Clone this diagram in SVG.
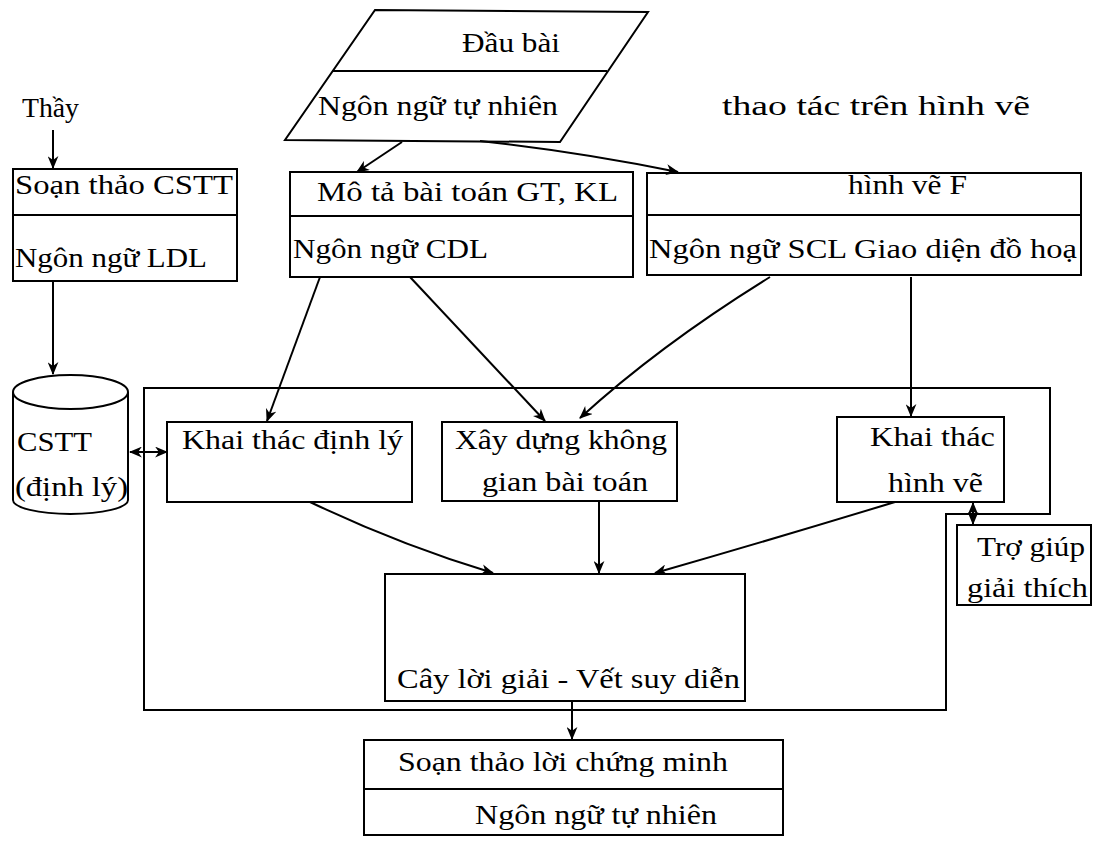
<svg xmlns="http://www.w3.org/2000/svg" width="1094" height="845" viewBox="0 0 1094 845">
<style>
.s{fill:none;stroke:#000;stroke-width:2}
.b{fill:#fff;stroke:#000;stroke-width:2}
.t{font-family:"Liberation Serif","Times New Roman",serif;font-size:27px;fill:#000}
.c{fill:none;stroke:#000;stroke-width:2}
.a{marker-end:url(#ah)}
.d{marker-start:url(#ah);marker-end:url(#ah)}
</style>
<defs>
<marker id="ah" viewBox="0 0 12 10" refX="11" refY="5" markerWidth="13" markerHeight="11" markerUnits="userSpaceOnUse" orient="auto-start-reverse">
<path d="M0,0 L12,5 L0,10 L3.5,5 Z" fill="#000"/>
</marker>
</defs>
<rect width="1094" height="845" fill="#fff"/>

<g id="frame">
<path class="s" d="M144,388 L1050,388 L1050,514 L946,514 L946,710 L144,710 Z"/>
</g>

<g id="dau-bai">
<path class="b" d="M375,10 L648,12 L560,142 L285,140 Z"/>
<line class="s" x1="332" y1="71" x2="607" y2="71"/>
<text class="t" x="462" y="52" textLength="98" lengthAdjust="spacingAndGlyphs">Đầu bài</text>
<text class="t" x="318" y="115" textLength="240" lengthAdjust="spacingAndGlyphs">Ngôn ngữ tự nhiên</text>
</g>

<g id="thao-tac">
<text class="t" x="722" y="115" textLength="308" lengthAdjust="spacingAndGlyphs">thao tác trên hình vẽ</text>
</g>

<g id="thay">
<text class="t" x="22" y="117" textLength="57" lengthAdjust="spacingAndGlyphs">Thầy</text>
</g>

<g id="soan-thao-cstt">
<rect class="b" x="13" y="169" width="224" height="112"/>
<line class="s" x1="13" y1="215" x2="237" y2="215"/>
<text class="t" x="15" y="194" textLength="218" lengthAdjust="spacingAndGlyphs">Soạn thảo CSTT</text>
<text class="t" x="15" y="267" textLength="192" lengthAdjust="spacingAndGlyphs">Ngôn ngữ LDL</text>
</g>

<g id="mo-ta">
<rect class="b" x="290" y="172" width="343" height="105"/>
<line class="s" x1="290" y1="216" x2="633" y2="216"/>
<text class="t" x="317" y="201" textLength="301" lengthAdjust="spacingAndGlyphs">Mô tả bài toán GT, KL</text>
<text class="t" x="293" y="258" textLength="195" lengthAdjust="spacingAndGlyphs">Ngôn ngữ CDL</text>
</g>

<g id="hinh-ve-f">
<rect class="b" x="647" y="173" width="434" height="102"/>
<line class="s" x1="647" y1="215" x2="1081" y2="215"/>
<text class="t" x="848" y="194" textLength="119" lengthAdjust="spacingAndGlyphs">hình vẽ F</text>
<text class="t" x="649" y="258" textLength="428" lengthAdjust="spacingAndGlyphs">Ngôn ngữ SCL Giao diện đồ hoạ</text>
</g>

<g id="cstt-db">
<path class="b" d="M13,392 L13,500 A57.5,14 0 0 0 128,500 L128,392"/>
<ellipse class="b" cx="70.5" cy="392" rx="57.5" ry="17"/>
<text class="t" x="17" y="451" textLength="75" lengthAdjust="spacingAndGlyphs">CSTT</text>
<text class="t" x="15" y="496" textLength="113" lengthAdjust="spacingAndGlyphs">(định lý)</text>
</g>

<g id="khai-thac-dinh-ly">
<rect class="b" x="167" y="422" width="245" height="80"/>
<text class="t" x="182" y="449" textLength="221" lengthAdjust="spacingAndGlyphs">Khai thác định lý</text>
</g>

<g id="xay-dung">
<rect class="b" x="442" y="422" width="235" height="79"/>
<text class="t" x="455" y="449" textLength="212" lengthAdjust="spacingAndGlyphs">Xây dựng không</text>
<text class="t" x="482" y="491" textLength="166" lengthAdjust="spacingAndGlyphs">gian bài toán</text>
</g>

<g id="khai-thac-hinh-ve">
<rect class="b" x="837" y="417" width="167" height="85"/>
<text class="t" x="870" y="446" textLength="125" lengthAdjust="spacingAndGlyphs">Khai thác</text>
<text class="t" x="888" y="492" textLength="95" lengthAdjust="spacingAndGlyphs">hình vẽ</text>
</g>

<g id="tro-giup">
<rect class="b" x="957" y="525" width="134" height="80"/>
<text class="t" x="977" y="556" textLength="108" lengthAdjust="spacingAndGlyphs">Trợ giúp</text>
<text class="t" x="967" y="597" textLength="121" lengthAdjust="spacingAndGlyphs">giải thích</text>
</g>

<g id="cay-loi-giai">
<rect class="b" x="385" y="574" width="360" height="127"/>
<text class="t" x="397" y="688" textLength="343" lengthAdjust="spacingAndGlyphs">Cây lời giải - Vết suy diễn</text>
</g>

<g id="soan-thao-loi-chung-minh">
<rect class="b" x="364" y="740" width="419" height="95"/>
<line class="s" x1="364" y1="789" x2="783" y2="789"/>
<text class="t" x="398" y="771" textLength="330" lengthAdjust="spacingAndGlyphs">Soạn thảo lời chứng minh</text>
<text class="t" x="475" y="824" textLength="242" lengthAdjust="spacingAndGlyphs">Ngôn ngữ tự nhiên</text>
</g>

<g id="connectors">
<path class="c a" d="M402,142 L357,172"/>
<path class="c a" d="M480,141 Q580,152 678,172"/>
<path class="c a" d="M53,130 L53,168"/>
<path class="c a" d="M53,281 L53,374"/>
<path class="c a" d="M320,277 L267,421"/>
<path class="c a" d="M410,277 L545,421"/>
<path class="c a" d="M770,277 Q660,345 580,418"/>
<path class="c a" d="M911,277 L911,416"/>
<path class="c d" d="M130,452 L167,452"/>
<path class="c a" d="M310,502 Q400,545 493,573"/>
<path class="c a" d="M599,501 L599,573"/>
<path class="c a" d="M895,502 Q770,540 655,573"/>
<path class="c d" d="M973,503 L973,524"/>
<path class="c a" d="M572,701 L572,739"/>
</g>
</svg>
